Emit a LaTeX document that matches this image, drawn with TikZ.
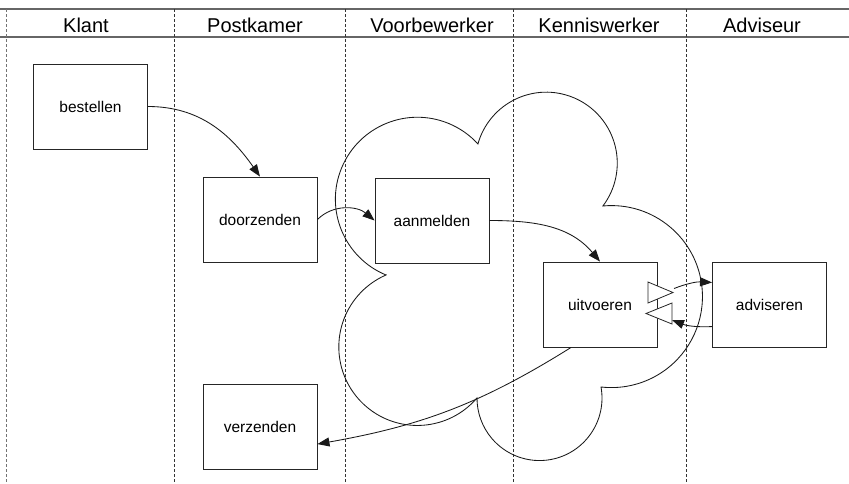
\documentclass[tikz,border=0pt]{standalone}
\usepackage{fontspec}
\setmainfont{Liberation Sans}
\usetikzlibrary{arrows.meta}
\begin{document}
\begin{tikzpicture}[x=1pt,y=1pt,
  lane/.style={draw=black!80, line width=0.9pt, dash pattern=on 3pt off 2pt},
  rule/.style={draw=black!60, line width=1.2pt},
  header/.style={font=\fontsize{20}{24}\selectfont, anchor=base, inner sep=0},
  task/.style={draw=black!85, fill=white, line width=0.9pt, minimum width=114pt,
    minimum height=85pt, inner sep=0, font=\fontsize{15.5}{18}\selectfont},
  flow/.style={draw=black!90, line width=0.85pt, -{Triangle[length=12pt,width=9pt]}},
  cloudline/.style={draw=black!90, line width=0.85pt},
  port/.style={draw=black!85, fill=white, line width=0.8pt, line join=miter}
]
\useasboundingbox (0,0) rectangle (849,-483);

% header rules
\draw[rule] (0,-9) -- (849,-9);
\draw[rule] (0,-37) -- (849,-37);

% lane separators
\draw[lane, draw=black!55] (6,-9) -- (6,-483);
\foreach \x in {174,345,513,686} \draw[lane] (\x,-9) -- (\x,-483);

% lane titles
\node[header] (hKlant)   at (86,-32)  {Klant};
\node[header] (hPost)    at (255,-32) {Postkamer};
\node[header] (hVoor)    at (432,-32) {Voorbewerker};
\node[header] (hKennis)  at (599,-32) {Kenniswerker};
\node[header] (hAdvies)  at (762,-32) {Adviseur};

% cloud made of five circular lobes
\draw[cloudline] (386,-275)
  arc[start angle=247.5, end angle=42.4,   radius=82]
  arc[start angle=164.3, end angle=-37.1,  radius=71]
  arc[start angle=95.4,  end angle=-96.6,  radius=91]
  arc[start angle=10.2,  end angle=-180.1, radius=62.5]
  arc[start angle=-40.5, end angle=-246.5, radius=78.5] -- cycle;

% tasks
\node[task] (bestellen)  at (90.5,-106.5) {bestellen};
\node[task] (doorzenden) at (260,-219.5)  {doorzenden};
\node[task] (aanmelden)  at (432,-220.5)  {aanmelden};
\node[task] (uitvoeren)  at (600,-304.5)  {uitvoeren};
\node[task] (adviseren)  at (769.5,-304.5) {adviseren};
\node[task] (verzenden)  at (260,-426.5)  {verzenden};

% send / receive ports of uitvoeren
\draw[port] (648,-282) -- (673,-292.5) -- (648,-303) -- cycle;
\draw[port] (672,-303) -- (646,-313.5) -- (672,-324) -- cycle;
\coordinate (sendout) at (674,-288.5);
\coordinate (recvin)  at (672,-320);

% flows
\draw[flow] (bestellen.east) to[out=0,in=125] (doorzenden.north);
\draw[flow] (doorzenden.east) to[out=45,in=140] (aanmelden.west);
\draw[flow] (aanmelden.east) to[out=0,in=130] (uitvoeren.north);
\draw[flow] (sendout) to[bend left=12] (adviseren.159);
\draw[flow] (adviseren.201) to[bend left=12] (recvin);
\draw[flow] (uitvoeren.236.6) to[out=212,in=10] (verzenden.-17);
\end{tikzpicture}
\end{document}
